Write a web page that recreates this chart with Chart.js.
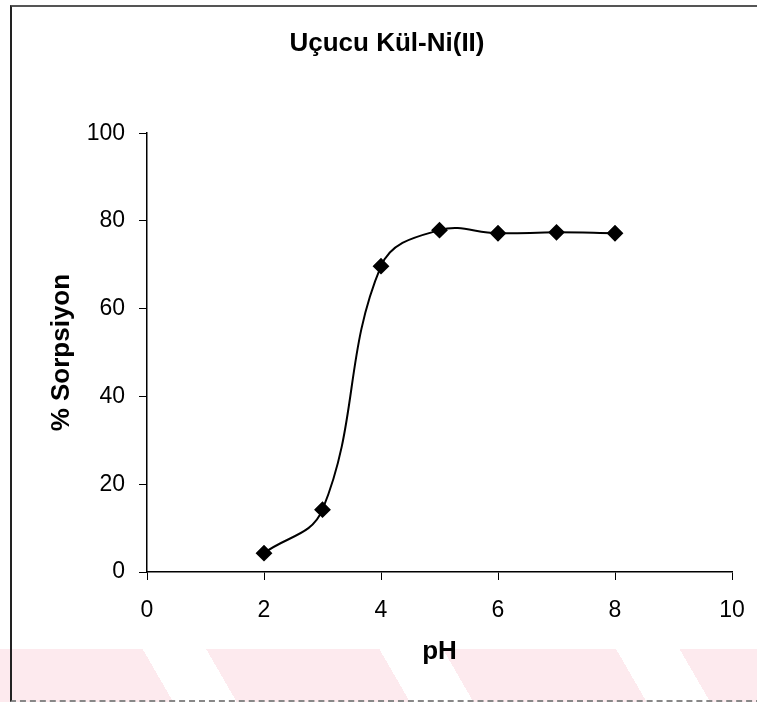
<!DOCTYPE html>
<html>
<head>
<meta charset="utf-8">
<script src="https://cdn.jsdelivr.net/npm/chart.js@4/dist/chart.umd.min.js"></script>
<style>
	body { margin: 0; background: #fff; }
	#wrap { position: relative; width: 757px; height: 702px; overflow: hidden; }
	#band {
		position: absolute; left: 0; top: 649px; width: 757px; height: 53px;
		background: repeating-linear-gradient(60deg, #fdeaee 0px, #fdeaee 150px, #ffffff 150px, #ffffff 205px);
	}
	#frame {
		position: absolute; left: 10px; top: 5px; width: 760px; height: 693px;
		border-left: 2px solid #222; border-top: 2px solid #555; border-bottom: 2px dashed #888;
	}
	canvas { position: absolute; left: 0; top: 0; }
</style>
</head>
<body>
<div id="wrap">
	<div id="band"></div>
	<div id="frame"></div>
	<canvas id="SorptionChart" width="757" height="702"></canvas>
</div>
<script>
const phValues = [2, 3, 4, 5, 6, 7, 8]
const sorptionValues = [4.3, 14.2, 69.7, 77.9, 77.2, 77.4, 77.2]
const xTicks = [0, 2, 4, 6, 8, 10]
const yTicks = [0, 20, 40, 60, 80, 100]

let points = []
phValues.forEach((ph, i) => {
	points.push({ x: ph, y: sorptionValues[i] })
});

const fontFamily = "'Liberation Sans', Arial, Helvetica, sans-serif"

const data = {
	datasets: [{
		label: 'Uçucu Kül-Ni(II)',
		data: points,
		borderColor: '#000',
		backgroundColor: '#000',
		borderWidth: 2,
		tension: 0.4,
		pointStyle: 'rectRot',
		pointRadius: 7,
		pointHoverRadius: 7,
		pointBackgroundColor: '#000',
		pointBorderColor: '#000',
	}]
};

const config = {
	type: 'line',
	data: data,
	options: {
		responsive: false,
		animation: false,
		layout: { padding: { left: 42, right: 25, top: 0, bottom: 0 } },
		plugins: {
			legend: { display: false },
			tooltip: { enabled: false },
			title: {
				display: true,
				text: 'Uçucu Kül-Ni(II)',
				color: '#000',
				font: { family: fontFamily, size: 26, weight: 'bold' },
				padding: { top: 28, bottom: 74 }
			}
		},
		scales: {
			x: {
				type: 'linear',
				min: 0,
				max: 10,
				afterBuildTicks: scale => { scale.ticks = xTicks.map(v => ({ value: v })) },
				afterFit: scale => {
					scale.height = 130
					scale.paddingRight = 10
				},
				grid: { drawOnChartArea: false, drawTicks: true, tickLength: 8, color: '#000', lineWidth: 1 },
				border: { color: '#000', width: 1.5 },
				ticks: { color: '#000', padding: 17, font: { family: fontFamily, size: 23 } },
				title: {
					display: true, text: 'pH', color: '#000',
					font: { family: fontFamily, size: 26, weight: 'bold' },
					padding: { top: 0, bottom: 35 }
				}
			},
			y: {
				min: 0,
				max: 100,
				afterBuildTicks: scale => { scale.ticks = yTicks.map(v => ({ value: v })) },
				afterFit: scale => { scale.width = 105 },
				grid: { drawOnChartArea: false, drawTicks: true, tickLength: 8, color: '#000', lineWidth: 1 },
				border: { color: '#000', width: 1.5 },
				ticks: { color: '#000', padding: 14, font: { family: fontFamily, size: 23 } },
				title: {
					display: true, text: '% Sorpsiyon', color: '#000',
					font: { family: fontFamily, size: 26, weight: 'bold' },
					padding: { top: 4, bottom: 0 }
				}
			}
		}
	}
};

const SorptionChart = new Chart(
	document.getElementById('SorptionChart'),
	config
);
</script>
</body>
</html>
